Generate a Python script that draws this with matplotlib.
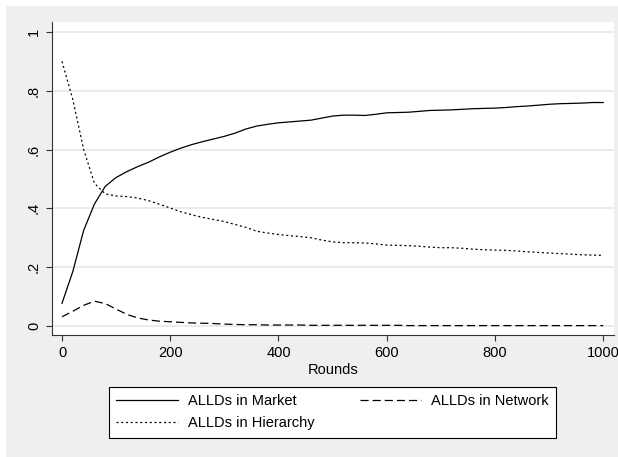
import matplotlib
matplotlib.use("Agg")
import matplotlib.pyplot as plt
import numpy as np
from matplotlib.patches import Rectangle

plt.rcParams['font.family'] = ['Liberation Sans', 'DejaVu Sans']

rounds = list(range(0, 1001, 20))
market = [0.077, 0.185, 0.325, 0.415, 0.475, 0.505, 0.525, 0.542, 0.557, 0.575,
          0.591, 0.605, 0.617, 0.627, 0.636, 0.645, 0.656, 0.670, 0.680, 0.686,
          0.691, 0.694, 0.697, 0.700, 0.707, 0.714, 0.717, 0.717, 0.716, 0.720,
          0.725, 0.726, 0.727, 0.730, 0.733, 0.734, 0.735, 0.737, 0.739, 0.740,
          0.741, 0.743, 0.746, 0.748, 0.751, 0.754, 0.756, 0.757, 0.758, 0.760,
          0.760]
hierarchy = [0.900, 0.770, 0.600, 0.485, 0.449, 0.442, 0.440, 0.435, 0.426, 0.414,
             0.401, 0.388, 0.378, 0.369, 0.362, 0.355, 0.345, 0.335, 0.322, 0.316,
             0.311, 0.307, 0.304, 0.300, 0.292, 0.286, 0.283, 0.283, 0.282, 0.279,
             0.275, 0.274, 0.273, 0.271, 0.268, 0.266, 0.266, 0.264, 0.261, 0.259,
             0.258, 0.257, 0.255, 0.252, 0.250, 0.248, 0.246, 0.244, 0.242, 0.241,
             0.240]
network = [0.031, 0.050, 0.070, 0.084, 0.076, 0.057, 0.039, 0.027, 0.020, 0.016,
           0.014, 0.012, 0.010, 0.009, 0.008, 0.006, 0.005, 0.004, 0.004, 0.003,
           0.003, 0.003, 0.003, 0.002, 0.002, 0.002, 0.002, 0.002, 0.002, 0.002,
           0.002, 0.002, 0.001, 0.001, 0.001, 0.001, 0.001, 0.001, 0.001, 0.001,
           0.001, 0.001, 0.001, 0.001, 0.001, 0.001, 0.001, 0.001, 0.001, 0.001,
           0.001]

xticks = [0, 200, 400, 600, 800, 1000]
xticklabels = ['0', '200', '400', '600', '800', '1000']
yticks = [0, 0.2, 0.4, 0.6, 0.8, 1.0]
yticklabels = ['0', '.2', '.4', '.6', '.8', '1']

W, H = 618, 457
fig = plt.figure(figsize=(W/100, H/100), dpi=100, facecolor='white')
fig.patches.append(Rectangle((6/W, 0), 1 - 6/W, 1 - 6/H, transform=fig.transFigure,
                             facecolor='#efefef', edgecolor='none', zorder=-10))

ax = fig.add_axes([52/W, 1 - 335/H, (614-52)/W, (335-22)/H])
ax.set_facecolor('white')

lw = 0.9
ax.plot(rounds, market, color='black', lw=lw, linestyle='-', label='ALLDs in Market')
ax.plot(rounds, hierarchy, color='black', lw=lw, linestyle=(0, (1.6, 2.2)), label='ALLDs in Hierarchy')
ax.plot(rounds, network, color='black', lw=lw, linestyle=(0, (6.5, 3.2)), label='ALLDs in Network')

ax.set_xlim(-18.5, 1020)
ax.set_ylim(-0.031, 1.034)
ax.set_xticks(xticks)
ax.set_xticklabels(xticklabels)
ax.set_yticks(yticks)
ax.set_yticklabels(yticklabels, rotation=90, va='center')
ax.grid(axis='y', color='#e8e8e8', lw=1.2)
ax.set_axisbelow(True)
for s in ['top', 'right']:
    ax.spines[s].set_visible(False)
for s in ['left', 'bottom']:
    ax.spines[s].set_color('#333333')
    ax.spines[s].set_linewidth(0.8)
ax.tick_params(axis='both', direction='out', length=4.5, width=0.8, color='#333333',
               labelsize=10.5, pad=3.5, labelcolor='black')
ax.set_xlabel('Rounds', fontsize=10.5, labelpad=2)

handles, labels = ax.get_legend_handles_labels()
leg = fig.legend(handles, labels, ncol=2, loc='upper left',
                 bbox_to_anchor=(109/W, 1 - 438/H, (556-109)/W, (438-387)/H),
                 mode='expand', borderaxespad=0, frameon=True, fancybox=False,
                 edgecolor='black', facecolor='white', framealpha=1, fontsize=10.5,
                 handlelength=4.2, handletextpad=0.7, columnspacing=2.0,
                 labelspacing=0.55, borderpad=0.5)
leg.get_frame().set_linewidth(0.8)

fig.savefig('out.png', dpi=100, facecolor='white')
